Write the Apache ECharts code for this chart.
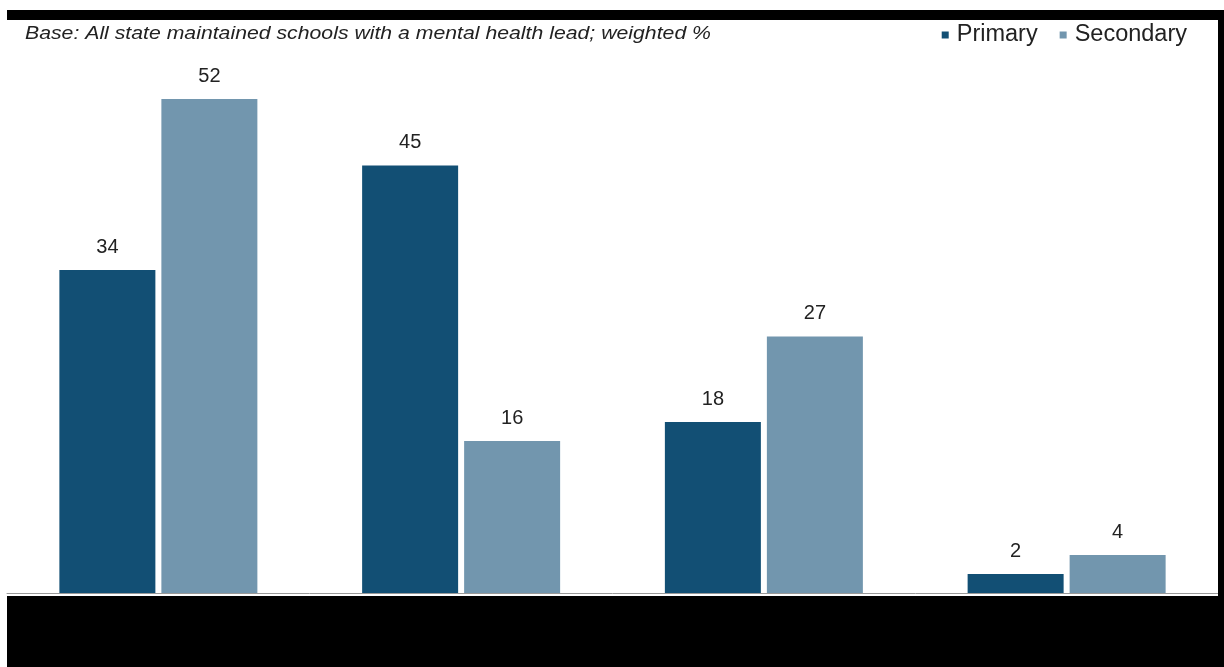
<!DOCTYPE html>
<html>
<head>
<meta charset="utf-8">
<script src="https://cdn.jsdelivr.net/npm/echarts@6/dist/echarts.min.js"></script>
<style>html,body{margin:0;padding:0;background:#fff;}#c{width:1224px;height:667px;}</style>
</head>
<body>
<div id="c"></div>
<script>
const categories = ['A', 'B', 'C', 'D'];
const primary = [34, 45, 18, 2];
const secondary = [52, 16, 27, 4];
const seriesNames = ['Primary', 'Secondary'];
const subtitle = 'Base: All state maintained schools with a mental health lead; weighted %';

const FONT = 'Liberation Sans, Arial, sans-serif';
const chart = echarts.init(document.getElementById('c'), null, {renderer: 'canvas'});
const labelCfg = {show: true, position: 'top', distance: 13, color: '#222', fontSize: 20, fontFamily: FONT};
chart.setOption({
  animation: false,
  backgroundColor: '#fff',
  grid: {left: 7, right: 6, top: 23, bottom: 74, containLabel: false},
  legend: {
    data: seriesNames, right: 32, top: 18, itemWidth: 7, itemHeight: 7, itemGap: 22,
    icon: 'rect',
    textStyle: {fontSize: 23.5, color: '#222', fontFamily: FONT, padding: [0, 0, 0, 3]}
  },
  xAxis: {
    type: 'category', data: categories, offset: 2,
    axisLine: {show: true, lineStyle: {color: '#999', width: 1}},
    axisTick: {show: false}, axisLabel: {show: false}
  },
  yAxis: {type: 'value', min: 0, max: 60, show: false, splitLine: {show: false}},
  series: [
    {name: seriesNames[0], type: 'bar', data: primary, barWidth: 96, barGap: '6.25%',
     itemStyle: {color: '#124f74'}, label: labelCfg},
    {name: seriesNames[1], type: 'bar', data: secondary, barWidth: 96,
     itemStyle: {color: '#7296ae'}, label: labelCfg}
  ],
  graphic: [
    {type: 'text', x: 25, y: 25, scaleX: 1.18, style: {text: subtitle, fontSize: 18, fontStyle: 'italic', fill: '#222', fontFamily: FONT}},
    {type: 'rect', shape: {x: 7, y: 10, width: 1217, height: 10}, style: {fill: '#000'}, z: 100},
    {type: 'rect', shape: {x: 1218, y: 10, width: 6, height: 657}, style: {fill: '#000'}, z: 100},
    {type: 'rect', shape: {x: 7, y: 596, width: 1217, height: 71}, style: {fill: '#000'}, z: 100}
  ]
});
</script>
</body>
</html>
